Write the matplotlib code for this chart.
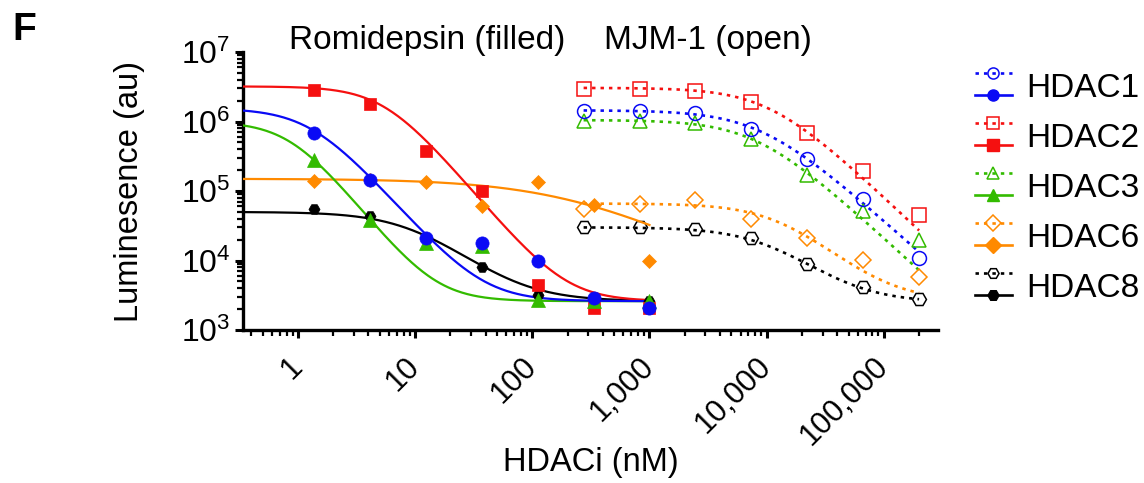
import numpy as np
import matplotlib
matplotlib.use("Agg")
import matplotlib.pyplot as plt
from matplotlib.lines import Line2D
from matplotlib.legend_handler import HandlerBase
from matplotlib.ticker import FixedLocator, FixedFormatter, LogLocator, NullFormatter

plt.rcParams['font.family'] = ['Liberation Sans', 'DejaVu Sans']
plt.rcParams['mathtext.fontset'] = 'custom'
plt.rcParams['mathtext.rm'] = 'Liberation Sans'

# --- data ---
isoforms = ['HDAC1', 'HDAC2', 'HDAC3', 'HDAC6', 'HDAC8']

romi_nM = [1.372, 4.115, 12.35, 37.04, 111.1, 333.3, 1000.0]
mjm_nM = [274.3, 823.0, 2469.0, 7407.0, 22222.0, 66667.0, 200000.0]

romi_hdac1 = [6.9e5, 1.45e5, 2.1e4, 1.77e4, 1.0e4, 2.85e3, 2.05e3]
romi_hdac2 = [2.8e6, 1.8e6, 3.8e5, 1.0e5, 4.4e3, 2.1e3, 2.1e3]
romi_hdac3 = [2.8e5, 3.8e4, 1.8e4, 1.6e4, 2.7e3, 2.6e3, 2.6e3]
romi_hdac6 = [1.4e5, 1.45e5, 1.36e5, 6.1e4, 1.33e5, 6.2e4, 9.8e3]
romi_hdac8 = [5.5e4, 4.3e4, 2.1e4, 8.1e3, 3.2e3, 2.7e3, 2.6e3]

mjm_hdac1 = [1.42e6, 1.42e6, 1.32e6, 7.9e5, 2.9e5, 7.6e4, 1.1e4]
mjm_hdac2 = [2.95e6, 2.95e6, 2.75e6, 1.9e6, 6.9e5, 1.95e5, 4.5e4]
mjm_hdac3 = [1.02e6, 1.02e6, 9.4e5, 5.6e5, 1.7e5, 5.1e4, 1.96e4]
mjm_hdac6 = [5.5e4, 6.6e4, 7.4e4, 4.0e4, 2.1e4, 1.02e4, 5.7e3]
mjm_hdac8 = [3.0e4, 3.0e4, 2.8e4, 2.1e4, 8.9e3, 4.1e3, 2.77e3]

# 4-parameter logistic fits: top, bottom, IC50 (nM), hill slope
romi_fit = {
    'HDAC1': (1.55e6, 2.6e3, 1.3, 1.9),
    'HDAC2': (3.2e6, 2.6e3, 5.5, 2.0),
    'HDAC3': (1.0e6, 2.6e3, 0.87, 2.1),
    'HDAC6': (1.5e5, 0.0, 200.0, 0.8),
    'HDAC8': (5.0e4, 2.6e3, 10.0, 1.5),
}
mjm_fit = {
    'HDAC1': (1.45e6, 0.0, 8800.0, 1.5),
    'HDAC2': (3.05e6, 0.0, 10500.0, 1.6),
    'HDAC3': (1.05e6, 0.0, 8100.0, 1.55),
    'HDAC6': (6.6e4, 2.6e3, 13300.0, 1.6),
    'HDAC8': (3.0e4, 2.5e3, 10300.0, 1.55),
}

romi_vals = dict(zip(isoforms, [romi_hdac1, romi_hdac2, romi_hdac3, romi_hdac6, romi_hdac8]))
mjm_vals = dict(zip(isoforms, [mjm_hdac1, mjm_hdac2, mjm_hdac3, mjm_hdac6, mjm_hdac8]))

x_ticks = [1, 10, 100, 1000, 10000, 100000]
x_ticklabels = ['1', '10', '100', '1,000', '10,000', '100,000']

# --- styles ---
colors = {'HDAC1': '#0A0AF5', 'HDAC2': '#F51010', 'HDAC3': '#33BB00',
          'HDAC6': '#FF8A00', 'HDAC8': '#000000'}
markers = {'HDAC1': 'o', 'HDAC2': 's', 'HDAC3': '^', 'HDAC6': 'D', 'HDAC8': 'H'}
fill_ms = {'HDAC1': 9.5, 'HDAC2': 9, 'HDAC3': 10, 'HDAC6': 7, 'HDAC8': 8}
open_ms = {'HDAC1': 10, 'HDAC2': 10, 'HDAC3': 10, 'HDAC6': 8.5, 'HDAC8': 10}
draw_order = ['HDAC8', 'HDAC6', 'HDAC2', 'HDAC3', 'HDAC1']
DOT = (0, (1.3, 1.9))


def logistic(x, top, bottom, ic50, hill):
    return bottom + (top - bottom) / (1.0 + (x / ic50) ** hill)


class StackedHandler(HandlerBase):
    # open (dotted) entry above, filled (solid) entry below
    def create_artists(self, legend, orig_handle, xdescent, ydescent,
                       width, height, fontsize, trans):
        top_src, bot_src = orig_handle
        x0 = -xdescent
        x1 = x0 + width
        yc = (height - ydescent) / 2.0
        gap = 8.0
        out = []
        for src, y in ((top_src, yc + gap), (bot_src, yc - gap)):
            ln = Line2D([x0, x1], [y, y])
            ln.update_from(src)
            ln.set_marker('None')
            mk = Line2D([(x0 + x1) / 2.0], [y])
            mk.update_from(src)
            mk.set_linestyle('None')
            for a in (ln, mk):
                a.set_transform(trans)
                out.append(a)
        return out


fig = plt.figure(figsize=(11.44, 4.83), dpi=100)
ax = fig.add_axes([243 / 1144, 1 - 330 / 483, (938 - 243) / 1144, (330 - 52) / 483])

xr = np.logspace(np.log10(0.34), 3, 300)
xm = np.logspace(np.log10(mjm_nM[0]), np.log10(mjm_nM[-1]), 300)

for iso in draw_order:
    c = colors[iso]
    ax.plot(xm, logistic(xm, *mjm_fit[iso]), color=c, lw=1.9, ls=DOT, zorder=2)
    ax.plot(mjm_nM, mjm_vals[iso], ls='none', marker=markers[iso], ms=open_ms[iso],
            mfc='none', mec=c, mew=1.1, zorder=3)
for iso in draw_order:
    c = colors[iso]
    ax.plot(xr, logistic(xr, *romi_fit[iso]), color=c, lw=1.6, zorder=4)
for iso in draw_order:
    c = colors[iso]
    ax.plot(romi_nM, romi_vals[iso], ls='none', marker=markers[iso], ms=fill_ms[iso],
            mfc=c, mec=c, mew=0.5, zorder=5)

ax.set_xscale('log')
ax.set_yscale('log')
ax.set_xlim(0.34, 290000)
ax.set_ylim(1e3, 1e7)

ax.xaxis.set_major_locator(FixedLocator(x_ticks))
ax.xaxis.set_major_formatter(FixedFormatter(x_ticklabels))
ax.xaxis.set_minor_locator(LogLocator(base=10, subs=np.arange(2, 10), numticks=20))
ax.xaxis.set_minor_formatter(NullFormatter())
ax.yaxis.set_major_locator(LogLocator(base=10, numticks=10))
ax.yaxis.set_minor_locator(LogLocator(base=10, subs=np.arange(2, 10), numticks=20))
ax.yaxis.set_minor_formatter(NullFormatter())

for s in ('top', 'right'):
    ax.spines[s].set_visible(False)
for s in ('left', 'bottom'):
    ax.spines[s].set_linewidth(2.4)

ax.tick_params(which='major', length=6, width=2.2, labelsize=23, pad=3)
ax.tick_params(which='minor', length=4, width=1.6)
ax.tick_params(axis='x', which='major', labelsize=22, pad=17)
for lbl in ax.get_xticklabels():
    lbl.set_rotation(45)
    lbl.set_ha('right')
    lbl.set_va('center')
    lbl.set_rotation_mode('anchor')

ax.set_ylabel('Luminesence (au)', fontsize=23.5, va='center')
ax.yaxis.set_label_coords(-0.164, 0.5)
ax.set_xlabel('HDACi (nM)', fontsize=23.5, va='center')
ax.xaxis.set_label_coords(0.5, -0.478)

fig.text(427 / 1144, 1 - 40 / 483, 'Romidepsin (filled)', fontsize=24, ha='center', va='center')
fig.text(708 / 1144, 1 - 40 / 483, 'MJM-1 (open)', fontsize=24, ha='center', va='center')
fig.text(12 / 1144, 1 - 30 / 483, 'F', fontsize=28, fontweight='bold', ha='left', va='center')

handles = []
for iso in isoforms:
    c = colors[iso]
    p_open = Line2D([], [], color=c, lw=1.9, ls=DOT, marker=markers[iso], ms=8,
                    mfc='none', mec=c, mew=1.1)
    p_fill = Line2D([], [], color=c, lw=1.9, marker=markers[iso], ms=8, mfc=c, mec=c)
    handles.append((p_open, p_fill))

fig.legend(handles, isoforms, handler_map={tuple: StackedHandler()},
           loc='upper left', bbox_to_anchor=(975 / 1144, 1 - 71 / 483),
           frameon=False, fontsize=24, handlelength=1.1, handleheight=1.0,
           handletextpad=0.45, labelspacing=0.5, borderpad=0, borderaxespad=0)

fig.savefig('out.png', dpi=100)
